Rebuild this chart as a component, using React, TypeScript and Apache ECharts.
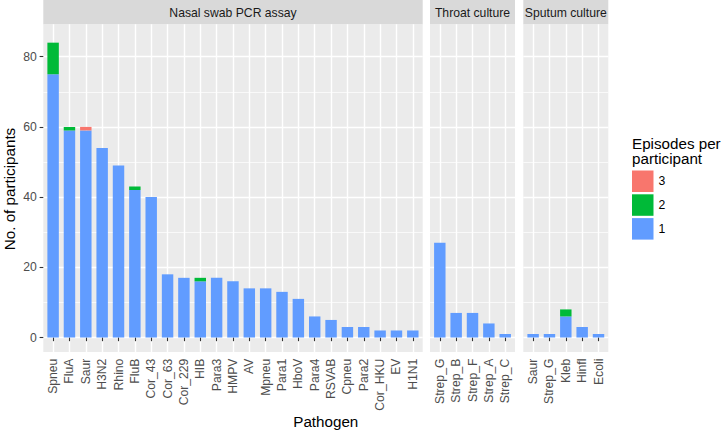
import React, { useEffect, useRef } from "react";
import * as echarts from "echarts";

// ---------- data ----------
const nasalCats = ["Spneu","FluA","Saur","H3N2","Rhino","FluB","Cor_43","Cor_63","Cor_229","HIB","Para3","HMPV","AV","Mpneu","Para1","HboV","Para4","RSVAB","Cpneu","Para2","Cor_HKU","EV","H1N1"];
const nasalEp1 = [75,59,59,54,49,42,40,18,17,16,17,16,14,14,13,11,6,5,3,3,2,2,2];
const nasalEp2 = [9,1,0,0,0,1,0,0,0,1,0,0,0,0,0,0,0,0,0,0,0,0,0];
const nasalEp3 = [0,0,1,0,0,0,0,0,0,0,0,0,0,0,0,0,0,0,0,0,0,0,0];

const throatCats = ["Strep_G","Strep_B","Strep_F","Strep_A","Strep_C"];
const throatEp1 = [27,7,7,4,1];
const throatEp2 = [0,0,0,0,0];
const throatEp3 = [0,0,0,0,0];

const sputumCats = ["Saur","Strep_G","Kleb","Hinfl","Ecoli"];
const sputumEp1 = [1,1,6,3,1];
const sputumEp2 = [0,0,2,0,0];
const sputumEp3 = [0,0,0,0,0];

const facetTitles = ["Nasal swab PCR assay","Throat culture","Sputum culture"];
const levels = ["1","2","3"];
const legendOrder = ["3","2","1"];
const yTickMax = 80;
const yTickStep = 20;

// ---------- style / layout ----------
const FONT = '"Liberation Sans", Arial, Helvetica, sans-serif';
const SMALL = 12.2;
const BIG = 15.2;
const COLORS: Record<string,string> = { "1": "#619CFF", "2": "#00BA38", "3": "#F8766D" };
const BAND = 16.35;
const STRIP_TOP = 0;
const PANEL_TOP = 24.3;
const PANEL_BOTTOM = 352;
const ZERO_Y = 337.5;
const PX_PER_UNIT = 3.51;
const Y_MIN = -(PANEL_BOTTOM - ZERO_Y) / PX_PER_UNIT;
const Y_MAX = (ZERO_Y - PANEL_TOP) / PX_PER_UNIT;
const panelX = [[43.3, 422.7],[430, 515],[523.3, 608.3]];

export default function App() {
  const ref = useRef<HTMLDivElement>(null);
  useEffect(() => {
    document.body.style.margin = "0";
    const chart = echarts.init(ref.current!, null, { renderer: "svg" });
    const panels = [
      { cats: nasalCats, s: [nasalEp1, nasalEp2, nasalEp3] },
      { cats: throatCats, s: [throatEp1, throatEp2, throatEp3] },
      { cats: sputumCats, s: [sputumEp1, sputumEp2, sputumEp3] },
    ];
    const grids: any[] = [];
    const xAxes: any[] = [];
    const yAxes: any[] = [];
    const series: any[] = [];
    const graphics: any[] = [];
    panels.forEach((p, i) => {
      const [pl, pr] = panelX[i];
      const n = p.cats.length;
      grids.push({ left: pl + 0.1 * BAND, width: n * BAND, top: PANEL_TOP, height: PANEL_BOTTOM - PANEL_TOP, containLabel: false, outerBoundsMode: "none" });
      grids.push({ left: pl, width: pr - pl, top: ZERO_Y - yTickMax * PX_PER_UNIT, height: yTickMax * PX_PER_UNIT, containLabel: false, outerBoundsMode: "none" });
      const gData = grids.length - 2;
      const gLine = grids.length - 1;
      xAxes.push({
        type: "category", gridIndex: gData, data: p.cats,
        axisLine: { show: false },
        axisTick: { show: true, alignWithLabel: true, interval: 0, length: 3.67, lineStyle: { color: "#333333", width: 1.1 } },
        axisLabel: { rotate: 90, interval: 0, color: "#4D4D4D", fontSize: SMALL, fontFamily: FONT, margin: 6.6 },
        splitLine: { show: true, alignWithLabel: true, interval: 0, lineStyle: { color: "#FFFFFF", width: 1.42 } },
      });
      xAxes.push({ type: "value", gridIndex: gLine, show: false });
      yAxes.push({ type: "value", gridIndex: gData, min: Y_MIN, max: Y_MAX, show: false });
      yAxes.push({
        type: "value", gridIndex: gLine, min: 0, max: yTickMax, interval: yTickStep,
        axisLine: { show: false },
        axisTick: { show: i === 0, length: 3.67, lineStyle: { color: "#333333", width: 1.1 } },
        axisLabel: { show: i === 0, color: "#4D4D4D", fontSize: SMALL, fontFamily: FONT, margin: 6.6 },
        splitLine: { show: true, lineStyle: { color: "#FFFFFF", width: 1.42 } },
        minorTick: { show: false, splitNumber: 2 },
        minorSplitLine: { show: true, lineStyle: { color: "#FFFFFF", width: 0.71 } },
      });
      const xi = xAxes.length - 2;
      const yi = yAxes.length - 2;
      levels.forEach((lv, k) => {
        series.push({
          type: "bar", name: lv, xAxisIndex: xi, yAxisIndex: yi, stack: "p" + i,
          data: p.s[k], barWidth: "70%", itemStyle: { color: COLORS[lv] },
        });
      });
      graphics.push({ type: "rect", z: -10, silent: true, shape: { x: pl, y: PANEL_TOP, width: pr - pl, height: PANEL_BOTTOM - PANEL_TOP }, style: { fill: "#EBEBEB" } });
      graphics.push({ type: "rect", z: -10, silent: true, shape: { x: pl, y: STRIP_TOP, width: pr - pl, height: PANEL_TOP - STRIP_TOP }, style: { fill: "#D9D9D9" } });
      graphics.push({ type: "text", silent: true, x: (pl + pr) / 2, y: (STRIP_TOP + PANEL_TOP) / 2 + 0.5,
        style: { text: facetTitles[i], fill: "#1A1A1A", fontSize: SMALL, fontFamily: FONT, textAlign: "center", textVerticalAlign: "middle", textBaseline: "middle" } });
    });
    graphics.push({ type: "text", silent: true, x: 9.5, y: 189, rotation: Math.PI / 2,
      style: { text: "No. of participants", fill: "#000", fontSize: BIG, fontFamily: FONT, textAlign: "center", textVerticalAlign: "middle", textBaseline: "middle" } });
    graphics.push({ type: "text", silent: true, x: 325.8, y: 421,
      style: { text: "Pathogen", fill: "#000", fontSize: BIG, fontFamily: FONT, textAlign: "center", textVerticalAlign: "middle", textBaseline: "middle" } });
    graphics.push({ type: "text", silent: true, x: 632, y: 143,
      style: { text: "Episodes per", fill: "#000", fontSize: BIG, fontFamily: FONT, textAlign: "left", textVerticalAlign: "middle", textBaseline: "middle" } });
    graphics.push({ type: "text", silent: true, x: 632, y: 158.5,
      style: { text: "participant", fill: "#000", fontSize: BIG, fontFamily: FONT, textAlign: "left", textVerticalAlign: "middle", textBaseline: "middle" } });

    chart.setOption({
      animation: false,
      grid: grids,
      xAxis: xAxes,
      yAxis: yAxes,
      series,
      graphic: graphics,
      legend: {
        data: legendOrder, orient: "vertical", left: 632, top: 170.5,
        itemWidth: 21.5, itemHeight: 21.5, itemGap: 2.3, icon: "rect", selectedMode: false,
        padding: 0,
        textStyle: { fontSize: SMALL, color: "#000", fontFamily: FONT },
      },
    });
    return () => chart.dispose();
  }, []);
  return <div ref={ref} style={{ position: "fixed", left: 0, top: 0, width: 722, height: 435, background: "#fff" }} />;
}
